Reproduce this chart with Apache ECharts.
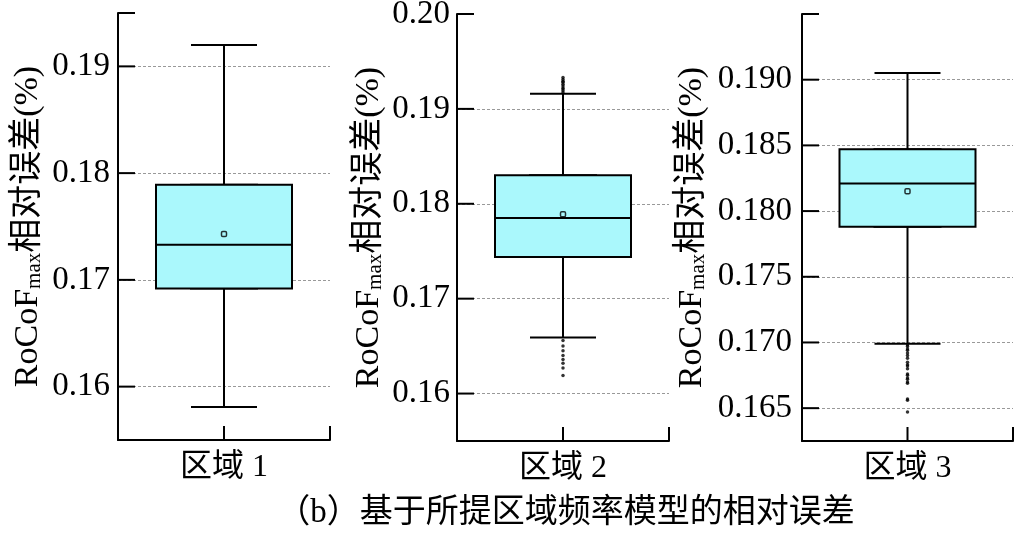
<!DOCTYPE html>
<html>
<head>
<meta charset="utf-8">
<script src="https://cdn.jsdelivr.net/npm/echarts@6/dist/echarts.min.js"></script>
<style>
  html, body { margin: 0; padding: 0; background: #fff; }
  #main { width: 1018px; height: 536px; }
</style>
</head>
<body>
<div id="main"></div>
<script>
// 数据
const regions = ['区域 1', '区域 2', '区域 3'];
const lowerWhisker = [0.1581, 0.1659, 0.1699];
const q1 = [0.1692, 0.1744, 0.1788];
const median = [0.1733, 0.1785, 0.1821];
const q3 = [0.1789, 0.1830, 0.1847];
const upperWhisker = [0.1920, 0.1916, 0.1905];
const means = [0.1743, 0.1789, 0.1815];
const outliers1 = [];
const outliers2 = [0.1917, 0.1919, 0.1921, 0.1922, 0.1924, 0.1926, 0.1928, 0.1929, 0.1931, 0.1933,
  0.1656, 0.1650, 0.1645, 0.1640, 0.1636, 0.1632, 0.1627, 0.1619];
const outliers3 = [0.1698, 0.1697, 0.1695, 0.1694, 0.1692, 0.1690, 0.1688, 0.1685, 0.1683, 0.1682,
  0.1680, 0.1676, 0.1675, 0.1673, 0.1672, 0.1670, 0.1669, 0.1657, 0.1656, 0.1647];
const outliers = [outliers1, outliers2, outliers3];
// 纵轴刻度
const yMin = [0.155, 0.155, 0.1625];
const yMax = [0.195, 0.20, 0.195];
const yStep = [0.01, 0.01, 0.005];
const ticks1 = [0.16, 0.17, 0.18, 0.19, 0.195];
const ticks2 = [0.16, 0.17, 0.18, 0.19, 0.20];
const ticks3 = [0.165, 0.170, 0.175, 0.180, 0.185, 0.190, 0.195];
const yTicks = [ticks1, ticks2, ticks3];
const labelDigits = [2, 2, 3];
const caption = '（b）基于所提区域频率模型的相对误差';

const FONT = "'Liberation Serif', 'Noto Sans CJK SC', serif";
const BOX_COLOR = '#aaf8fc';

// 版面
const grids = [
  { left: 118, top: 13, width: 212, height: 427 },
  { left: 457, top: 14, width: 212, height: 427 },
  { left: 802, top: 14, width: 211, height: 427 }
];
const nameGaps = [73, 71, 93];
const labelMargins = [8, 7, 10];

const chartDom = document.getElementById('main');
const myChart = echarts.init(chartDom);

const xAxis = [];
const yAxis = [];
const series = [];

// 刻度线（内向）
function yTickItem(params, api) {
  const cs = params.coordSys;
  const y = api.coord([api.value(0), api.value(1)])[1];
  return {
    type: 'line',
    shape: { x1: cs.x, y1: y, x2: cs.x + 17, y2: y },
    style: { stroke: '#000', lineWidth: 2 }
  };
}
function xTickItem(params, api) {
  const cs = params.coordSys;
  const cx = cs.x + cs.width / 2;
  const bottom = cs.y + cs.height;
  return {
    type: 'group',
    children: [
      { type: 'line', shape: { x1: cx, y1: bottom, x2: cx, y2: bottom - 14 }, style: { stroke: '#000', lineWidth: 2 } },
      { type: 'line', shape: { x1: cs.x + cs.width, y1: bottom, x2: cs.x + cs.width, y2: bottom - 14 }, style: { stroke: '#000', lineWidth: 2 } }
    ]
  };
}

regions.forEach((name, i) => {
  xAxis.push({
    type: 'category', gridIndex: i, position: 'bottom', data: [name],
    axisLine: { lineStyle: { color: '#000', width: 2 } },
    axisTick: { show: false },
    axisLabel: { color: '#000', fontSize: 32, fontFamily: FONT, margin: 12 },
    splitLine: { show: false }
  });
  // 辅助横轴：让两个箱线图系列不并排
  xAxis.push({
    type: 'category', gridIndex: i, position: 'bottom', data: [name],
    axisLine: { show: false }, axisTick: { show: false },
    axisLabel: { show: false }, splitLine: { show: false }
  });
  yAxis.push({
    type: 'value', gridIndex: i,
    min: yMin[i], max: yMax[i],
    minInterval: yStep[i], maxInterval: yStep[i],
    name: '{a|RoCoF}{s|max}{a|相对误差(%)}',
    nameLocation: 'middle', nameRotate: 90, nameGap: nameGaps[i],
    nameMoveOverlap: false,
    nameTextStyle: {
      rich: {
        a: { fontSize: 34, fontFamily: FONT, color: '#000', lineHeight: 34, verticalAlign: 'top', padding: [0, 0, 4, 0] },
        s: { fontSize: 21, fontFamily: FONT, color: '#000', lineHeight: 21, verticalAlign: 'bottom' }
      }
    },
    axisLine: { show: true, lineStyle: { color: '#000', width: 2 } },
    axisTick: { show: false },
    axisLabel: {
      color: '#000', fontSize: 33, fontFamily: FONT, margin: labelMargins[i],
      showMinLabel: false, showMaxLabel: i === 1,
      formatter: v => v.toFixed(labelDigits[i])
    },
    splitLine: {
      show: true, showMinLine: false, showMaxLine: false,
      lineStyle: { color: '#999', width: 1, type: [3, 2] }
    }
  });

  // 须线及端线（窄）
  series.push({
    type: 'boxplot', xAxisIndex: 2 * i, yAxisIndex: i,
    boxWidth: [66, 66],
    itemStyle: { color: BOX_COLOR, borderColor: '#000', borderWidth: 2 },
    emphasis: { disabled: true },
    data: [[lowerWhisker[i], q1[i], median[i], q3[i], upperWhisker[i]]]
  });
  // 箱体（宽）
  series.push({
    type: 'boxplot', xAxisIndex: 2 * i + 1, yAxisIndex: i,
    boxWidth: [136, 136],
    itemStyle: { color: BOX_COLOR, borderColor: '#000', borderWidth: 2 },
    emphasis: { disabled: true },
    data: [[q1[i], q1[i], median[i], q3[i], q3[i]]]
  });
  // 异常值
  series.push({
    type: 'scatter', xAxisIndex: 2 * i, yAxisIndex: i,
    symbol: 'circle', symbolSize: 3.5,
    itemStyle: { color: '#000' },
    data: outliers[i].map(v => [name, v])
  });
  // 均值
  series.push({
    type: 'scatter', xAxisIndex: 2 * i, yAxisIndex: i,
    symbol: 'roundRect', symbolSize: 5,
    itemStyle: { color: BOX_COLOR, borderColor: '#000', borderWidth: 1.5 },
    data: [[name, means[i]]]
  });
  // 纵轴刻度
  series.push({
    type: 'custom', xAxisIndex: 2 * i, yAxisIndex: i,
    clip: false, silent: true, zlevel: 1, z: 10,
    renderItem: yTickItem,
    data: yTicks[i].map(v => [name, v])
  });
  // 横轴刻度
  series.push({
    type: 'custom', xAxisIndex: 2 * i, yAxisIndex: i,
    clip: false, silent: true, zlevel: 1, z: 10,
    renderItem: xTickItem,
    data: [[name, yMin[i]]]
  });
});

const option = {
  animation: false,
  grid: grids.map(g => Object.assign({ outerBoundsMode: 'none', containLabel: false }, g)),
  xAxis: xAxis,
  yAxis: yAxis,
  series: series,
  graphic: [{
    type: 'text', x: 566, y: 513,
    style: {
      text: caption, fill: '#000', fontSize: 33, fontFamily: FONT,
      textAlign: 'center', textVerticalAlign: 'middle'
    }
  }]
};
option && myChart.setOption(option);
</script>
</body>
</html>
